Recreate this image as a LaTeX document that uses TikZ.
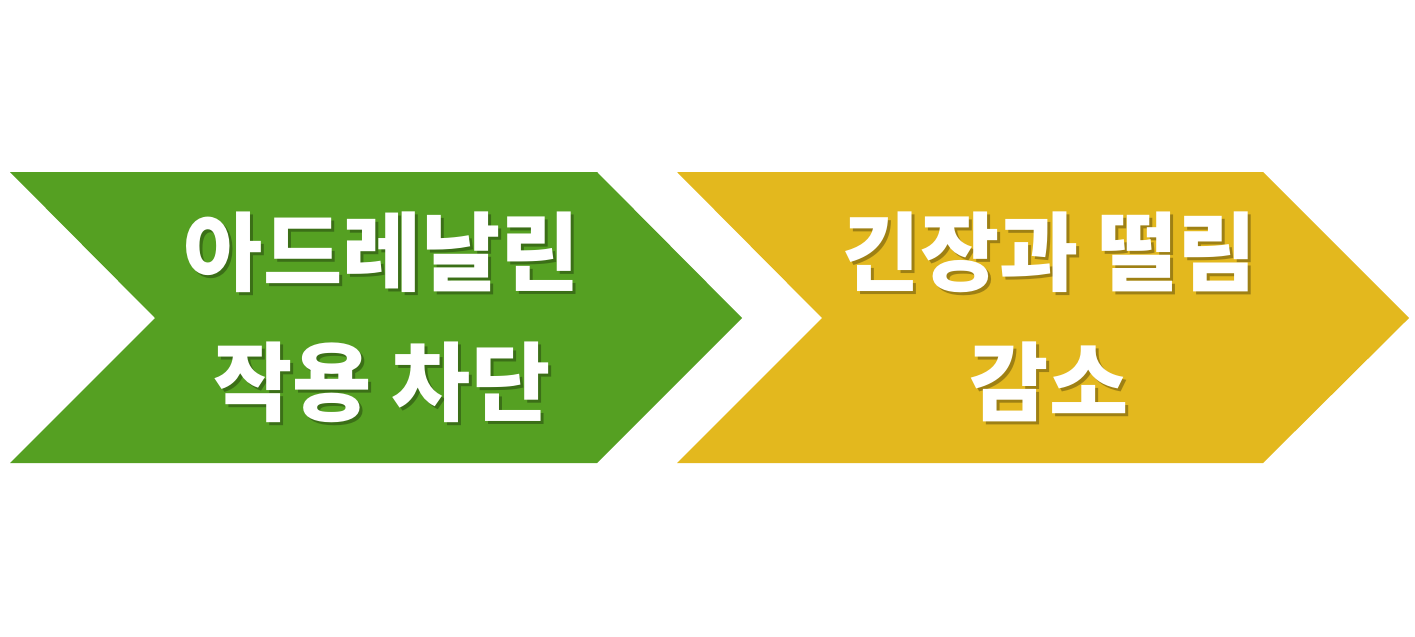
\documentclass[tikz,border=0pt]{standalone}
\usepackage{fontspec}
\newfontfamily\krfont{Noto Sans CJK KR}
\usetikzlibrary{positioning}

\definecolor{chevgreen}{HTML}{55A022}
\definecolor{chevyellow}{HTML}{E3B81E}

\tikzset{
 chevtext/.style={text=white, align=center, font=\krfont\bfseries\fontsize{49pt}{74pt}\selectfont},
 chevshadow/.style={chevtext, text=black, text opacity=0.3}
}

\begin{document}
\begin{tikzpicture}[x=0.02cm, y=-0.02cm]
 \useasboundingbox (0,0) rectangle (1415,636);

 % left chevron
 \fill[chevgreen] (10,172) -- (597,172) -- (742,318) -- (597,463) -- (10,463) -- (155,318) -- cycle;
 % right chevron
 \fill[chevyellow] (677,172) -- (1263,172) -- (1409,318) -- (1263,463) -- (677,463) -- (822,318) -- cycle;

 \node[chevshadow] (blockshadow) at (385,320) {아드레날린\\작용 차단};
 \node[chevtext] (block) at (382,317) {아드레날린\\작용 차단};

 \node[chevshadow] (reduceshadow) at (1052,320) {긴장과 떨림\\감소};
 \node[chevtext] (reduce) at (1049,317) {긴장과 떨림\\감소};

\end{tikzpicture}
\end{document}
